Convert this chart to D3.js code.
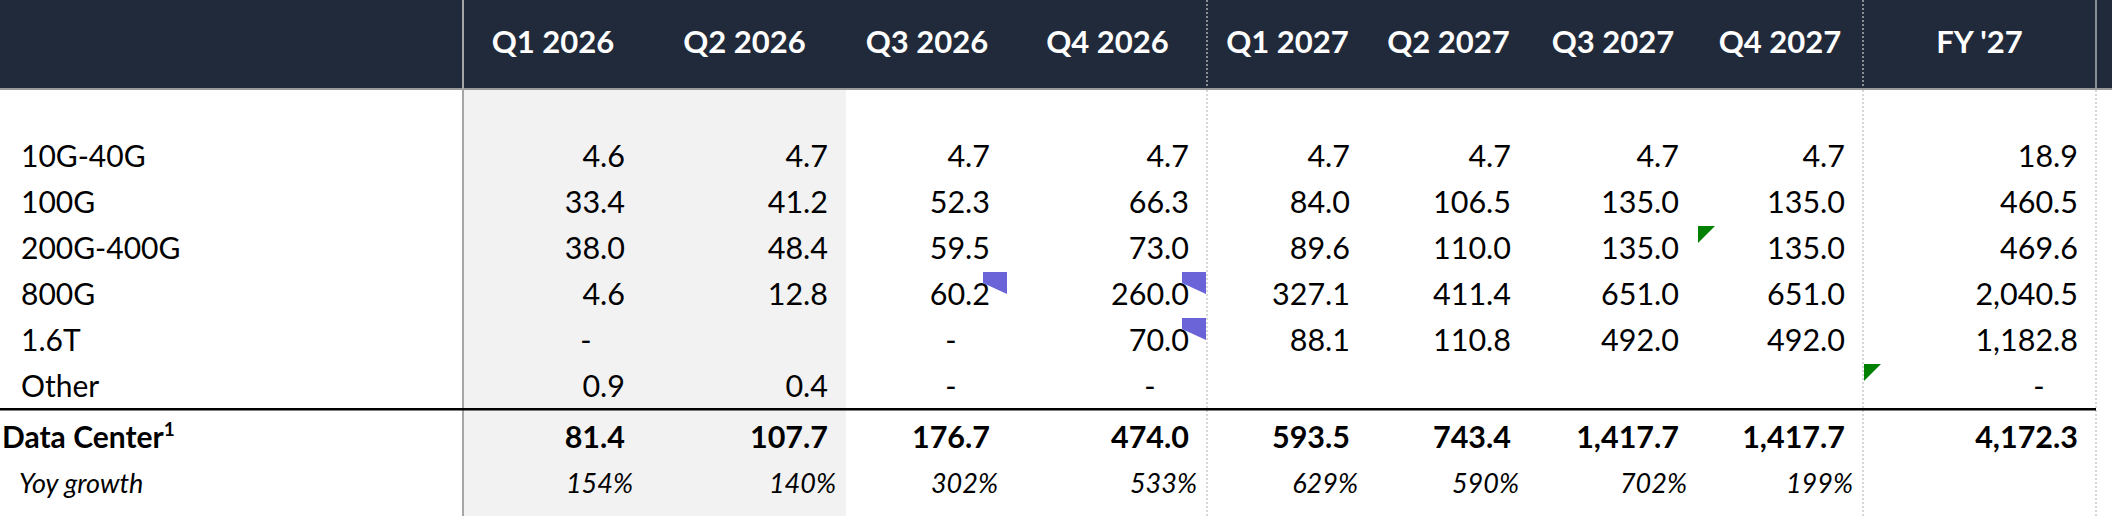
<!DOCTYPE html>
<html>
<head>
<meta charset="utf-8">
<script src="https://cdn.jsdelivr.net/npm/d3@7"></script>
<style>
  html, body { margin: 0; padding: 0; background: #fff; }
  svg { display: block; }
  text { font-family: Lato, "Open Sans", sans-serif; }
</style>
</head>
<body>
<svg id="table" width="2112" height="516"></svg>
<script>
// column headers and row labels
var columns = ["Q1 2026", "Q2 2026", "Q3 2026", "Q4 2026", "Q1 2027", "Q2 2027", "Q3 2027", "Q4 2027", "FY '27"];
var segments = ["10G-40G", "100G", "200G-400G", "800G", "1.6T", "Other"];

// revenue per segment (0 shows as "-", null is an empty cell)
var v10g40g = [4.6, 4.7, 4.7, 4.7, 4.7, 4.7, 4.7, 4.7, 18.9];
var v100g = [33.4, 41.2, 52.3, 66.3, 84.0, 106.5, 135.0, 135.0, 460.5];
var v200g400g = [38.0, 48.4, 59.5, 73.0, 89.6, 110.0, 135.0, 135.0, 469.6];
var v800g = [4.6, 12.8, 60.2, 260.0, 327.1, 411.4, 651.0, 651.0, 2040.5];
var v16t = [0, null, 0, 70.0, 88.1, 110.8, 492.0, 492.0, 1182.8];
var vOther = [0.9, 0.4, 0, 0, null, null, null, null, 0];
var dataCenter = [81.4, 107.7, 176.7, 474.0, 593.5, 743.4, 1417.7, 1417.7, 4172.3];
var yoyGrowth = [154, 140, 302, 533, 629, 590, 702, 199, null];

// little cell flags: [segment, column]
var commentFlags = [["800G", "Q3 2026"], ["800G", "Q4 2026"], ["1.6T", "Q4 2026"]];
var errorFlags = [["200G-400G", "Q4 2027"], ["Other", "FY '27"]];

var segmentValues = [v10g40g, v100g, v200g400g, v800g, v16t, vOther];

var svg = d3.select("#table"),
    width = +svg.attr("width"),
    height = +svg.attr("height"),
    headH = 88;

// column edges, left of each column then the last right edge
var edges = [463, 643, 846, 1008, 1207, 1368, 1529, 1697, 1863, 2096];
var colLeft = d3.scaleOrdinal().domain(columns).range(edges.slice(0, -1));
var colRight = d3.scaleOrdinal().domain(columns).range(edges.slice(1));

var rowY = d3.scalePoint()
    .domain(segments)
    .range([167, 397]);
var totalY = 448,
    yoyY = 493;

var fmt = d3.format(",.1f");

// shaded actuals
svg.append("rect")
    .attr("x", colLeft("Q1 2026"))
    .attr("y", headH)
    .attr("width", colRight("Q2 2026") - colLeft("Q1 2026"))
    .attr("height", height - headH)
    .attr("fill", "#f2f2f2");

// header band
svg.append("rect")
    .attr("x", 0).attr("y", 0)
    .attr("width", width).attr("height", headH)
    .attr("fill", "#212a3a");
svg.append("rect")
    .attr("x", 0).attr("y", headH)
    .attr("width", width).attr("height", 2)
    .attr("fill", "#9a9a9a");

svg.selectAll(".head")
    .data(columns)
    .enter().append("text")
    .attr("class", "head")
    .attr("x", function (d) { return (colLeft(d) + colRight(d)) / 2; })
    .attr("y", 53)
    .attr("text-anchor", "middle")
    .attr("fill", "#fff")
    .style("font-weight", 700)
    .style("font-size", "31px")
    .text(function (d) { return d; });

// grid lines
svg.append("line")
    .attr("x1", 463).attr("x2", 463)
    .attr("y1", 0).attr("y2", height)
    .attr("stroke", "#a6a6a6").attr("stroke-width", 2);

[colLeft("Q1 2027"), colLeft("FY '27"), colRight("FY '27")].forEach(function (x) {
    svg.append("line")
        .attr("x1", x).attr("x2", x)
        .attr("y1", headH + 2).attr("y2", height)
        .attr("stroke", "#bdbdbd").attr("stroke-width", 1.2)
        .attr("stroke-dasharray", "2,2");
    svg.append("line")
        .attr("x1", x).attr("x2", x)
        .attr("y1", 0).attr("y2", headH)
        .attr("stroke", "#d0d0d0").attr("stroke-width", 1.2)
        .attr("stroke-dasharray", x === colRight("FY '27") ? null : "2,2");
});

// total rule
svg.append("rect")
    .attr("x", 0).attr("y", 408)
    .attr("width", colRight("FY '27")).attr("height", 2.5)
    .attr("fill", "#000");

// row labels
svg.selectAll(".label")
    .data(segments)
    .enter().append("text")
    .attr("class", "label")
    .attr("x", 21)
    .attr("y", function (d) { return rowY(d); })
    .style("font-size", "30px")
    .text(function (d) { return d; });

var dc = svg.append("text")
    .attr("x", 2).attr("y", totalY)
    .style("font-size", "30px").style("font-weight", 700)
    .text("Data Center");
dc.append("tspan")
    .attr("dy", -12)
    .style("font-size", "19px")
    .text("1");

svg.append("text")
    .attr("x", 19).attr("y", yoyY)
    .style("font-size", "27px").style("font-style", "italic")
    .text("Yoy growth");

// value cells
function cells(values, y, bold) {
    var g = svg.append("g");
    values.forEach(function (v, i) {
        if (v === null) return;
        var c = columns[i];
        var t = g.append("text")
            .attr("y", y)
            .style("font-size", "30.5px")
            .style("font-weight", bold ? 700 : 400);
        if (v === 0) {
            t.attr("x", colRight(c) - 57).attr("text-anchor", "middle").text("-");
        } else {
            t.attr("x", colRight(c) - 18).attr("text-anchor", "end").text(fmt(v));
        }
    });
}

segmentValues.forEach(function (vals, r) {
    cells(vals, rowY(segments[r]), false);
});
cells(dataCenter, totalY, true);

svg.selectAll(".yoy")
    .data(yoyGrowth.map(function (v, i) { return { col: columns[i], v: v }; })
        .filter(function (d) { return d.v !== null; }))
    .enter().append("text")
    .attr("class", "yoy")
    .attr("x", function (d) { return colRight(d.col) - 10; })
    .attr("y", yoyY)
    .attr("text-anchor", "end")
    .style("font-size", "27px").style("font-style", "italic")
    .text(function (d) { return d.v + "%"; });

// comment flags, top right of the cell
svg.selectAll(".comment")
    .data(commentFlags)
    .enter().append("polygon")
    .attr("class", "comment")
    .attr("points", function (d) {
        var x = colRight(d[1]) - 1, y = rowY(d[0]) - 33;
        return [[x - 24, y], [x, y], [x, y + 22], [x - 24, y + 11]].join(" ");
    })
    .attr("fill", "#6b64d8");

// error flags, top left of the cell
svg.selectAll(".error")
    .data(errorFlags)
    .enter().append("polygon")
    .attr("class", "error")
    .attr("points", function (d) {
        var x = colLeft(d[1]) + 1, y = rowY(d[0]) - 33;
        return [[x, y], [x + 17, y], [x, y + 17]].join(" ");
    })
    .attr("fill", "#008000");
</script>
</body>
</html>
